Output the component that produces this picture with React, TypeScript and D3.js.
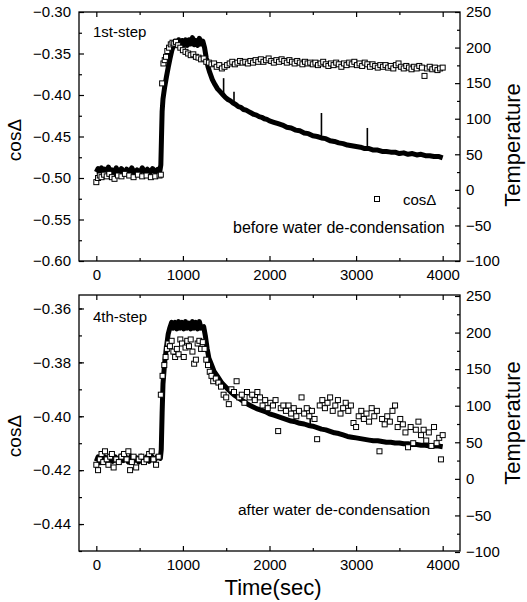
import React, { useEffect, useRef } from 'react';
import * as d3 from 'd3';

// ---- data ----
// top panel (1st step): temperature trace [time, T]
const tempTopT = [0, 20, 40, 60, 80, 100, 120, 140, 160, 180, 200, 230, 260, 290, 320, 350, 380, 410, 440, 470, 500, 530, 560, 590, 620, 650, 680, 710, 735, 745, 752, 760, 770, 790, 810, 830, 850, 870, 890, 910, 930, 950, 970, 990, 1010, 1030, 1050, 1070, 1090, 1110, 1130, 1150, 1170, 1190, 1210, 1230, 1250, 1270, 1290, 1310, 1340, 1370, 1400, 1430, 1460, 1490, 1520, 1550, 1580, 1610, 1640, 1670, 1700, 1730, 1760, 1790, 1820, 1850, 1880, 1910, 1940, 1970, 2000, 2050, 2100, 2150, 2200, 2250, 2300, 2350, 2400, 2450, 2500, 2550, 2600, 2650, 2700, 2750, 2800, 2850, 2900, 2950, 3000, 3050, 3100, 3150, 3200, 3250, 3300, 3350, 3400, 3450, 3500, 3550, 3600, 3650, 3700, 3750, 3800, 3850, 3900, 3950, 4000];
const tempTopV = [25, 30, 22, 31, 24, 29, 23, 32, 25, 28, 23, 31, 24, 30, 23, 29, 25, 31, 24, 28, 23, 31, 25, 29, 24, 30, 25, 29, 27, 35, 70, 110, 128, 145, 159, 172, 184, 195, 203, 209, 203, 211, 203, 210, 204, 211, 203, 211, 205, 214, 204, 210, 203, 213, 205, 209, 200, 185, 173, 165, 155, 148, 142, 138, 134, 130, 127, 125, 122, 120, 117, 116, 113, 112, 110, 108, 106, 105, 103, 102, 100, 99, 97, 95, 93, 91, 88, 87, 84, 83, 80, 79, 76, 75, 73, 72, 69, 68, 66, 65, 63, 62, 61, 60, 58, 58, 56, 56, 54, 54, 53, 53, 51, 52, 50, 51, 49, 50, 48, 48, 47, 47, 45];
// narrow spikes on the top trace: time, base, peak
const spikeTopT = [1470, 1590, 2600, 3130];
const spikeTopBase = [133, 121, 73, 58];
const spikeTopPeak = [157, 138, 108, 87];

// top panel: cos(Delta) squares
const cosTopT = [0, 20, 40, 60, 90, 120, 150, 180, 210, 250, 290, 330, 380, 430, 480, 530, 580, 630, 680, 730, 745, 760, 775, 790, 805, 820, 840, 860, 880, 900, 920, 945, 970, 1000, 1030, 1060, 1090, 1120, 1150, 1180, 1210, 1240, 1270, 1300, 1330, 1360, 1390, 1420, 1450, 1480, 1510, 1540, 1570, 1600, 1630, 1660, 1690, 1720, 1750, 1780, 1810, 1840, 1870, 1900, 1930, 1960, 1990, 2020, 2050, 2080, 2110, 2140, 2170, 2200, 2230, 2260, 2290, 2320, 2350, 2380, 2410, 2440, 2470, 2500, 2530, 2560, 2590, 2620, 2650, 2680, 2710, 2740, 2770, 2800, 2830, 2860, 2890, 2920, 2950, 2980, 3010, 3040, 3070, 3100, 3130, 3160, 3190, 3220, 3250, 3280, 3310, 3340, 3370, 3400, 3430, 3460, 3490, 3520, 3550, 3580, 3610, 3640, 3670, 3700, 3730, 3760, 3790, 3820, 3850, 3880, 3910, 3940, 3970, 4000];
const cosTopV = [-0.505, -0.500, -0.497, -0.499, -0.496, -0.498, -0.495, -0.499, -0.501, -0.497, -0.498, -0.495, -0.497, -0.499, -0.496, -0.498, -0.497, -0.499, -0.498, -0.497, -0.496, -0.386, -0.362, -0.358, -0.354, -0.347, -0.343, -0.339, -0.337, -0.338, -0.336, -0.340, -0.343, -0.346, -0.348, -0.350, -0.352, -0.351, -0.354, -0.355, -0.357, -0.356, -0.360, -0.361, -0.363, -0.362, -0.366, -0.364, -0.368, -0.366, -0.364, -0.362, -0.360, -0.363, -0.361, -0.359, -0.361, -0.360, -0.362, -0.359, -0.361, -0.358, -0.360, -0.357, -0.360, -0.358, -0.356, -0.359, -0.361, -0.358, -0.360, -0.357, -0.359, -0.361, -0.358, -0.360, -0.362, -0.359, -0.361, -0.363, -0.360, -0.362, -0.361, -0.363, -0.361, -0.364, -0.362, -0.360, -0.363, -0.365, -0.362, -0.364, -0.361, -0.363, -0.366, -0.362, -0.364, -0.361, -0.363, -0.360, -0.364, -0.362, -0.365, -0.361, -0.363, -0.366, -0.363, -0.365, -0.367, -0.364, -0.366, -0.364, -0.367, -0.365, -0.368, -0.364, -0.362, -0.366, -0.368, -0.365, -0.367, -0.369, -0.366, -0.368, -0.365, -0.367, -0.377, -0.368, -0.366, -0.369, -0.367, -0.370, -0.368, -0.367];

// bottom panel (4th step): temperature trace
const tempBotT = [0, 20, 40, 60, 80, 100, 130, 160, 190, 220, 250, 280, 310, 340, 370, 400, 430, 460, 490, 520, 550, 580, 610, 640, 670, 700, 740, 750, 760, 770, 790, 810, 830, 850, 870, 890, 910, 930, 950, 970, 990, 1010, 1030, 1050, 1070, 1090, 1110, 1130, 1150, 1170, 1190, 1210, 1240, 1260, 1280, 1300, 1330, 1360, 1400, 1450, 1500, 1550, 1600, 1650, 1700, 1750, 1800, 1850, 1900, 1950, 2000, 2050, 2100, 2150, 2200, 2250, 2300, 2350, 2400, 2450, 2500, 2550, 2600, 2650, 2700, 2750, 2800, 2850, 2900, 2950, 3000, 3050, 3100, 3150, 3200, 3250, 3300, 3350, 3400, 3450, 3500, 3550, 3600, 3650, 3700, 3750, 3800, 3850, 3900, 3950, 4000];
const tempBotV = [24, 30, 22, 31, 25, 30, 23, 31, 24, 30, 23, 31, 25, 30, 23, 31, 24, 29, 23, 31, 25, 30, 24, 31, 25, 30, 28, 40, 90, 130, 160, 180, 198, 207, 214, 206, 214, 205, 215, 206, 214, 205, 215, 206, 213, 205, 215, 206, 214, 205, 215, 206, 208, 195, 178, 165, 156, 147, 140, 131, 125, 119, 114, 110, 106, 102, 99, 96, 94, 92, 89, 87, 85, 83, 81, 79, 78, 76, 75, 73, 72, 70, 68, 67, 65, 63, 62, 60, 58, 57, 56, 55, 54, 53, 52, 52, 51, 50, 50, 49, 49, 48, 48, 47, 47, 46, 46, 45, 45, 45, 44];
const spikeBotT = [2470];
const spikeBotBase = [73];
const spikeBotPeak = [98];

// bottom panel: cos(Delta) squares
const cosBotT = [0, 20, 40, 60, 80, 100, 120, 140, 160, 180, 200, 230, 260, 290, 320, 350, 370, 390, 410, 430, 460, 490, 520, 550, 580, 610, 640, 660, 690, 720, 745, 765, 785, 800, 815, 830, 850, 870, 890, 910, 930, 950, 970, 990, 1010, 1030, 1050, 1070, 1090, 1110, 1130, 1150, 1170, 1190, 1210, 1230, 1250, 1270, 1290, 1310, 1330, 1350, 1380, 1410, 1440, 1470, 1500, 1530, 1560, 1590, 1620, 1650, 1680, 1710, 1740, 1770, 1800, 1830, 1860, 1890, 1920, 1950, 1980, 2010, 2040, 2070, 2100, 2130, 2160, 2190, 2220, 2250, 2280, 2310, 2340, 2370, 2400, 2430, 2460, 2490, 2520, 2550, 2580, 2610, 2640, 2670, 2700, 2730, 2760, 2790, 2820, 2850, 2880, 2910, 2940, 2970, 3000, 3030, 3060, 3090, 3120, 3150, 3180, 3210, 3240, 3270, 3300, 3330, 3360, 3390, 3420, 3450, 3480, 3510, 3540, 3570, 3600, 3630, 3660, 3690, 3720, 3750, 3780, 3810, 3840, 3870, 3900, 3930, 3960, 3980, 4000];
const cosBotV = [-0.418, -0.420, -0.416, -0.414, -0.417, -0.413, -0.416, -0.418, -0.415, -0.414, -0.419, -0.416, -0.417, -0.415, -0.414, -0.416, -0.413, -0.420, -0.417, -0.415, -0.419, -0.416, -0.415, -0.417, -0.416, -0.414, -0.413, -0.416, -0.418, -0.415, -0.392, -0.385, -0.381, -0.378, -0.375, -0.373, -0.374, -0.372, -0.376, -0.378, -0.375, -0.377, -0.3715, -0.373, -0.378, -0.3745, -0.372, -0.374, -0.3715, -0.376, -0.3805, -0.379, -0.373, -0.372, -0.375, -0.3725, -0.375, -0.379, -0.381, -0.3835, -0.385, -0.387, -0.386, -0.3875, -0.389, -0.392, -0.393, -0.3955, -0.390, -0.391, -0.387, -0.393, -0.392, -0.395, -0.391, -0.393, -0.392, -0.394, -0.391, -0.393, -0.396, -0.394, -0.397, -0.395, -0.396, -0.394, -0.4055, -0.397, -0.396, -0.398, -0.396, -0.399, -0.397, -0.400, -0.398, -0.393, -0.399, -0.397, -0.400, -0.398, -0.401, -0.4085, -0.396, -0.394, -0.397, -0.395, -0.393, -0.398, -0.396, -0.394, -0.399, -0.397, -0.395, -0.398, -0.396, -0.4025, -0.404, -0.400, -0.398, -0.401, -0.399, -0.402, -0.397, -0.400, -0.398, -0.413, -0.401, -0.403, -0.400, -0.402, -0.398, -0.396, -0.404, -0.401, -0.403, -0.406, -0.4115, -0.404, -0.410, -0.405, -0.402, -0.407, -0.405, -0.409, -0.406, -0.411, -0.404, -0.410, -0.408, -0.416, -0.407];

const xTicks = [0, 1000, 2000, 3000, 4000];
const topCosTicks = [-0.60, -0.55, -0.50, -0.45, -0.40, -0.35, -0.30];
const botCosTicks = [-0.44, -0.42, -0.40, -0.38, -0.36];
const tempTicks = [-100, -50, 0, 50, 100, 150, 200, 250];

const FONT = 'Liberation Sans, Arial, sans-serif';

function drawPanel(svg, opt) {
  const { top, bottom, left, right, cosDomain, cosTicks, cosMinor, tT, tV, sT, sB, sP, cT, cV, tempRange } = opt;
  const x = d3.scaleLinear().domain([-200, 4200]).range([left, right]);
  const yL = d3.scaleLinear().domain(cosDomain).range([bottom, top]);
  const yR = d3.scaleLinear().domain([-100, 250]).range(tempRange);

  const g = svg.append('g');

  // temperature trace (thick, noisy band)
  const pts = tT.map((t, i) => [t, tV[i]]);
  const line = d3.line().x((d) => x(d[0])).y((d) => yR(d[1]));
  g.append('path')
    .datum(pts)
    .attr('d', line)
    .attr('fill', 'none')
    .attr('stroke', '#000')
    .attr('stroke-width', 5)
    .attr('stroke-linejoin', 'round');

  // narrow spikes
  g.selectAll('line.spike')
    .data(sT.map((t, i) => [t, sB[i], sP[i]]))
    .enter()
    .append('line')
    .attr('x1', (d) => x(d[0])).attr('x2', (d) => x(d[0]))
    .attr('y1', (d) => yR(d[1])).attr('y2', (d) => yR(d[2]))
    .attr('stroke', '#000').attr('stroke-width', 1.6);

  // cos squares
  const sq = cT.map((t, i) => [t, cV[i]]);
  g.selectAll('rect.sq')
    .data(sq)
    .enter()
    .append('rect')
    .attr('x', (d) => x(d[0]) - 2.5)
    .attr('y', (d) => yL(d[1]) - 2.5)
    .attr('width', 5)
    .attr('height', 5)
    .attr('fill', '#fff')
    .attr('stroke', '#000')
    .attr('stroke-width', 1);

  const style = (sel) => {
    sel.select('.domain').remove();
    sel.selectAll('line').attr('stroke', '#000').attr('stroke-width', 1.2);
    sel.selectAll('text').attr('font-size', 15).attr('font-family', FONT).attr('fill', '#000');
  };

  // x axes (bottom with labels, top without)
  const xMinor = d3.range(500, 4001, 1000);
  g.append('g').attr('transform', `translate(0,${bottom})`)
    .call(d3.axisBottom(x).tickValues(xMinor).tickSize(-3).tickFormat(() => '')).call(style);
  g.append('g').attr('transform', `translate(0,${bottom})`)
    .call(d3.axisBottom(x).tickValues(xTicks).tickSize(-5).tickPadding(8).tickFormat(d3.format('d'))).call(style);
  g.append('g').attr('transform', `translate(0,${top})`)
    .call(d3.axisTop(x).tickValues(xMinor).tickSize(-3).tickFormat(() => '')).call(style);
  g.append('g').attr('transform', `translate(0,${top})`)
    .call(d3.axisTop(x).tickValues(xTicks).tickSize(-5).tickFormat(() => '')).call(style);

  // left axis
  g.append('g').attr('transform', `translate(${left},0)`)
    .call(d3.axisLeft(yL).tickValues(cosMinor).tickSize(-3).tickFormat(() => '')).call(style);
  g.append('g').attr('transform', `translate(${left},0)`)
    .call(d3.axisLeft(yL).tickValues(cosTicks).tickSize(-5).tickPadding(8).tickFormat(d3.format('.2f'))).call(style);

  // right axis
  const tMinor = d3.range(-75, 250, 50);
  g.append('g').attr('transform', `translate(${right},0)`)
    .call(d3.axisRight(yR).tickValues(tMinor).tickSize(-3).tickFormat(() => '')).call(style);
  g.append('g').attr('transform', `translate(${right},0)`)
    .call(d3.axisRight(yR).tickValues(tempTicks).tickSize(-5).tickPadding(6).tickFormat(d3.format('d'))).call(style);

  // frame
  g.append('rect')
    .attr('x', left).attr('y', top)
    .attr('width', right - left).attr('height', bottom - top)
    .attr('fill', 'none').attr('stroke', '#000').attr('stroke-width', 1.3);
}

export default function App() {
  const svgRef = useRef(null);

  useEffect(() => {
    const svg = d3.select(svgRef.current);
    svg.selectAll('*').remove();

    drawPanel(svg, {
      top: 12, bottom: 261, left: 79, right: 460,
      cosDomain: [-0.6, -0.3], cosTicks: topCosTicks,
      cosMinor: d3.range(-0.575, -0.3, 0.05),
      tT: tempTopT, tV: tempTopV, sT: spikeTopT, sB: spikeTopBase, sP: spikeTopPeak,
      cT: cosTopT, cV: cosTopV,
      tempRange: [261, 12],
    });
    drawPanel(svg, {
      top: 295, bottom: 551, left: 79, right: 460,
      cosDomain: [-0.45, -0.355], cosTicks: botCosTicks,
      cosMinor: d3.range(-0.45, -0.355, 0.01),
      tT: tempBotT, tV: tempBotV, sT: spikeBotT, sB: spikeBotBase, sP: spikeBotPeak,
      cT: cosBotT, cV: cosBotV,
      tempRange: [552, 296],
    });

    const txt = (xx, yy, s, size, extra = {}) => {
      const t = svg.append('text')
        .attr('x', xx).attr('y', yy)
        .attr('font-family', FONT)
        .attr('font-size', size)
        .attr('fill', '#000')
        .text(s);
      Object.entries(extra).forEach(([k, v]) => t.attr(k, v));
      return t;
    };

    txt(93, 37, '1st-step', 15);
    txt(93, 322, '4th-step', 15);

    // legend
    svg.append('rect').attr('x', 374.5).attr('y', 196.5).attr('width', 5).attr('height', 5)
      .attr('fill', '#fff').attr('stroke', '#000');
    txt(403, 205, 'cos\u0394', 15);
    txt(233, 233, 'before water de-condensation', 16);
    txt(238, 515, 'after water de-condensation', 15.5);

    // axis titles
    txt(0, 0, 'cos\u0394', 19, { transform: 'translate(21,140) rotate(-90)', 'text-anchor': 'middle' });
    txt(0, 0, 'cos\u0394', 19, { transform: 'translate(21,436) rotate(-90)', 'text-anchor': 'middle' });
    txt(0, 0, 'Temperature', 22, { transform: 'translate(520,145) rotate(-90)', 'text-anchor': 'middle' });
    txt(0, 0, 'Temperature', 22, { transform: 'translate(520,423) rotate(-90)', 'text-anchor': 'middle' });
    txt(273, 595, 'Time(sec)', 22, { 'text-anchor': 'middle' });
  }, []);

  return (
    <svg ref={svgRef} width={527} height={602}
      style={{ position: 'absolute', left: 0, top: 0, background: '#fff' }} />
  );
}
